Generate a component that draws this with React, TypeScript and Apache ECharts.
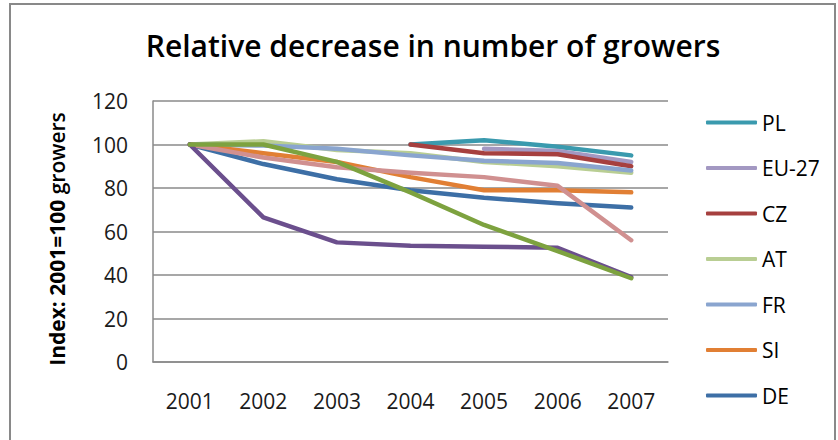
import React, { useEffect, useRef } from "react";
import * as echarts from "echarts";

// Index values, 2001 = 100
const years = ["2001", "2002", "2003", "2004", "2005", "2006", "2007"];
const yTicks = [0, 20, 40, 60, 80, 100, 120];

const pl = [null, null, null, 100, 102, 99, 95];
const eu27 = [null, null, null, null, 98, 97, 92];
const cz = [null, null, null, 100, 96, 95.5, 90];
const at = [100, 101.5, 97.5, 96, 92, 90, 87];
const fr = [100, 99.5, 98, 95, 92.5, 91.5, 88];
const si = [100, 96, 92, 85, 79, 79, 78];
const de = [100, 91, 84, 79, 75.5, 73, 71];
const series8 = [100, 94, 89.5, 87, 85, 81, 56];
const series9 = [100, 66.5, 55, 53.5, 53, 52.5, 39];
const series10 = [100, 100, 92, 78, 63, 51, 38.5];

const legendNames = ["PL", "EU-27", "CZ", "AT", "FR", "SI", "DE"];

const lines: { name: string; data: (number | null)[]; color: string }[] = [
  { name: "PL", data: pl, color: "#3a9aae" },
  { name: "EU-27", data: eu27, color: "#a398c2" },
  { name: "CZ", data: cz, color: "#a6403f" },
  { name: "AT", data: at, color: "#b9ce93" },
  { name: "FR", data: fr, color: "#8aa5cf" },
  { name: "SI", data: si, color: "#e17f34" },
  { name: "DE", data: de, color: "#3d6fa6" },
  { name: "Series 8", data: series8, color: "#d09090" },
  { name: "Series 9", data: series9, color: "#6b4f8d" },
  { name: "Series 10", data: series10, color: "#7da23f" },
];

const FONT = "'Open Sans', 'Noto Sans', sans-serif";

export default function App() {
  const ref = useRef<HTMLDivElement>(null);

  useEffect(() => {
    document.body.style.margin = "0";
    if (!ref.current) return;
    const chart = echarts.init(ref.current, undefined, { renderer: "svg" });
    chart.setOption({
      animation: false,
      backgroundColor: "#ffffff",
      title: {
        text: "Relative decrease in number of growers",
        left: 428,
        textAlign: "center",
        top: 25,
        textStyle: {
          fontFamily: FONT,
          fontSize: 30,
          fontWeight: 600,
          color: "#000000",
        },
      },
      grid: { left: 153, top: 101, right: 170, bottom: 78 },
      legend: {
        orient: "vertical",
        left: 701,
        top: 107,
        data: legendNames,
        icon: "roundRect",
        itemWidth: 51,
        itemHeight: 4,
        itemGap: 24.5,
        textStyle: {
          fontFamily: FONT,
          fontSize: 21,
          color: "#000000",
          lineHeight: 21,
        },
      },
      xAxis: {
        type: "category",
        data: years,
        boundaryGap: true,
        axisLine: { lineStyle: { color: "#8a8a8a", width: 1.5 } },
        axisTick: { show: false },
        axisLabel: {
          fontFamily: FONT,
          fontSize: 21,
          color: "#1a1a1a",
          margin: 28,
        },
      },
      yAxis: {
        type: "value",
        min: 0,
        max: 120,
        interval: 20,
        axisLine: { show: true, lineStyle: { color: "#8a8a8a", width: 1.5 } },
        axisTick: { show: false },
        splitLine: { lineStyle: { color: "#8a8a8a", width: 1.5 } },
        axisLabel: {
          fontFamily: FONT,
          fontSize: 21,
          color: "#1a1a1a",
          margin: 25,
          formatter: (v: number) => (yTicks.includes(v) ? String(v) : ""),
        },
      },
      graphic: [
        {
          type: "rect",
          shape: { x: 10, y: 4, width: 825, height: 445 },
          style: { fill: "none", stroke: "#898989", lineWidth: 2 },
          silent: true,
        },
        {
          type: "text",
          x: 57,
          y: 239,
          rotation: Math.PI / 2,
          style: {
            text: "{b|Index: 2001=100}{r| growers}",
            align: "center",
            verticalAlign: "middle",
            rich: {
              b: { fontFamily: FONT, fontSize: 21, fontWeight: "bold", fill: "#000" },
              r: { fontFamily: FONT, fontSize: 21, fontWeight: 600, fill: "#000" },
            },
          },
        },
      ],
      series: lines.map((l) => ({
        name: l.name,
        type: "line",
        data: l.data,
        symbol: "none",
        color: l.color,
        lineStyle: { width: 4.5, color: l.color, cap: "round", join: "round" },
      })),
    });
    return () => chart.dispose();
  }, []);

  return <div ref={ref} style={{ width: 838, height: 440 }} />;
}
